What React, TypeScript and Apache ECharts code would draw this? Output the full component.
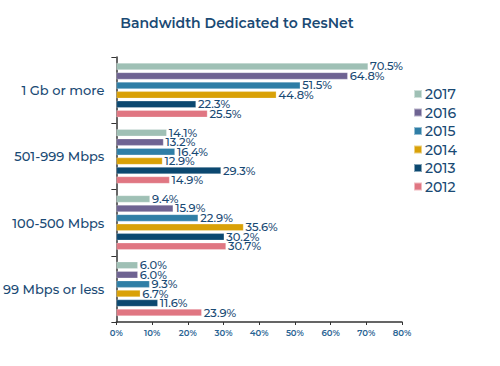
import React, { useEffect, useRef } from "react";
import * as echarts from "echarts";

const categories = ["99 Mbps or less", "100-500 Mbps", "501-999 Mbps", "1 Gb or more"];
const years = ["2017", "2016", "2015", "2014", "2013", "2012"];
const v2017 = [6.0, 9.4, 14.1, 70.5];
const v2016 = [6.0, 15.9, 13.2, 64.8];
const v2015 = [9.3, 22.9, 16.4, 51.5];
const v2014 = [6.7, 35.6, 12.9, 44.8];
const v2013 = [11.6, 30.2, 29.3, 22.3];
const v2012 = [23.9, 30.7, 14.9, 25.5];
const seriesValues = [v2017, v2016, v2015, v2014, v2013, v2012];
const colors = ["#9fc0b5", "#6e6392", "#2f7ea6", "#d9a107", "#0b4870", "#e07682"];
const xTicks = [0, 10, 20, 30, 40, 50, 60, 70, 80];

const navy = "#1a4a74";
const font = "Montserrat, 'Open Sans', 'Noto Sans', sans-serif";

export default function App() {
  const ref = useRef<HTMLDivElement>(null);
  useEffect(() => {
    if (!ref.current) return;
    const chart = echarts.init(ref.current, undefined, { renderer: "svg" });
    chart.setOption({
      animation: false,
      backgroundColor: "#ffffff",
      title: {
        text: "Bandwidth Dedicated to ResNet",
        left: 232,
        textAlign: "center",
        top: 11,
        textStyle: { color: navy, fontSize: 14, fontWeight: 600, fontFamily: font },
      },
      legend: {
        orient: "vertical",
        left: 413,
        top: 87,
        padding: 0,
        itemWidth: 8,
        itemHeight: 8,
        itemGap: 4.5,
        icon: "rect",
        data: years,
        textStyle: { color: navy, fontSize: 14, fontWeight: 500, fontFamily: font, padding: [0, 0, 0, -2] },
      },
      grid: { left: 113, right: 98, top: 57, bottom: 44 },
      xAxis: {
        type: "value",
        min: 0,
        max: 80,
        interval: 10,
        splitLine: { show: false },
        axisLine: { show: true, lineStyle: { color: "#333", width: 1.5 } },
        axisTick: { show: true, length: 3, lineStyle: { color: "#333" } },
        axisLabel: {
          color: "#2a6494",
          fontSize: 8.5,
          fontWeight: 600,
          fontFamily: font,
          margin: 6,
          formatter: (v: number) => (xTicks.includes(v) ? v + "%" : ""),
        },
      },
      yAxis: {
        type: "category",
        data: categories,
        axisLine: { show: true, lineStyle: { color: "#333", width: 1.5 } },
        axisTick: { show: true, length: 5, lineStyle: { color: "#333" } },
        axisLabel: { color: navy, fontSize: 13, fontWeight: 500, fontFamily: font, margin: 12 },
      },
      series: years.map((y, i) => ({
        name: y,
        type: "bar",
        data: seriesValues[i],
        barCategoryGap: "18%",
        barGap: "35%",
        itemStyle: { color: colors[i], borderColor: "rgba(255,255,255,0.5)", borderWidth: 0.5 },
        label: {
          show: true,
          position: "right",
          distance: 2,
          color: navy,
          fontSize: 11.5,
          fontWeight: 500,
          fontFamily: font,
          lineHeight: 10,
          formatter: (p: any) => p.value.toFixed(1) + "%",
        },
      })),
    });
    return () => chart.dispose();
  }, []);
  return <div ref={ref} style={{ width: 500, height: 366, position: "absolute", left: 0, top: 0 }} />;
}
